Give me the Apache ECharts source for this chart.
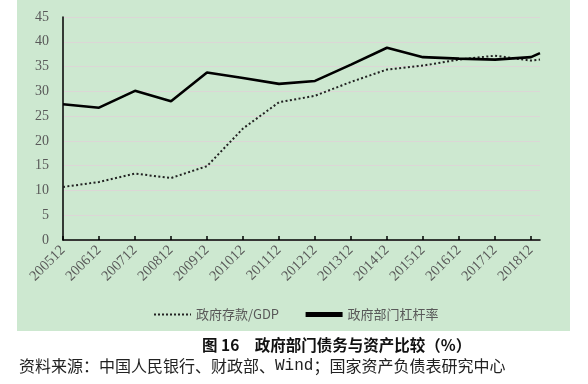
<!DOCTYPE html>
<html>
<head>
<meta charset="utf-8">
<script src="https://cdn.jsdelivr.net/npm/echarts@6/dist/echarts.min.js"></script>
<style>
html,body{margin:0;padding:0;background:#fff;}
#c{width:588px;height:384px;}
</style>
</head>
<body>
<div id="c"></div>
<script>
// yearly tick labels (axis shows one label per year, data quarterly grid)
var yearLabels = ['200512','200612','200712','200812','200912','201012','201112','201212','201312','201412','201512','201612','201712','201812'];
var extraDates = ['201903'];
var dates = ['200512','200612','200712','200812','200912','201012','201112','201212','201312','201412','201512','201612','201712','201812','201903'];
var govDepositToGDP = [10.7, 11.7, 13.4, 12.5, 14.9, 22.5, 27.8, 29.1, 31.9, 34.4, 35.2, 36.4, 37.2, 36.2, 36.4];
var govLeverage     = [27.4, 26.7, 30.1, 28.0, 33.8, 32.7, 31.5, 32.1, 35.4, 38.8, 36.9, 36.6, 36.4, 36.9, 37.7];
var seriesNames = ['政府存款/GDP', '政府部门杠杆率'];
var yTicks = [0, 45, 5];
var captionText = '图 16\u3000政府部门债务与资产比较（%）';
var sourceText = '资料来源：中国人民银行、财政部、{m|Wind}；国家资产负债表研究中心';

// quarterly category axis from 200512 to 201903
var quarters = [];
(function(){
  var y = 2005, m = 12;
  while (true) {
    var lab = '' + y + (m < 10 ? '0' + m : m);
    quarters.push(lab);
    if (lab === extraDates[extraDates.length - 1]) break;
    m += 3; if (m > 12) { m -= 12; y += 1; }
  }
})();
function mapData(vals){
  return quarters.map(function(q){
    var i = dates.indexOf(q);
    return i >= 0 ? vals[i] : null;
  });
}

var chart = echarts.init(document.getElementById('c'), null, {renderer:'canvas'});
var serif = '"Liberation Serif","Times New Roman",serif';
var cjk = '"Noto Sans CJK SC","Noto Sans",sans-serif';
chart.setOption({
  backgroundColor: 'transparent',
  animation: false,
  color: ['#222', '#000'],
  graphic: [
    {type:'rect', z:-10, silent:true, shape:{x:17, y:0, width:553, height:331}, style:{fill:'#cde8d0'}},
    {type:'text', left: 202, top: 337, style:{text: captionText, font:'bold 15.5px ' + cjk, fill:'#111'}},
    {type:'text', left: 19, top: 358, style:{text: sourceText, font:'16px ' + cjk, fill:'#222',
      rich:{m:{fontFamily:'"Liberation Mono","DejaVu Sans Mono",monospace', fontSize:16, fill:'#222'}}}}
  ],
  grid: {left: 63, right: 48, top: 17, bottom: 144, containLabel: false},
  legend: {
    left: 148, top: 303,
    itemWidth: 37, itemHeight: 12, itemGap: 24,
    itemStyle: {opacity: 0},
    textStyle: {fontFamily: cjk, fontSize: 13, color: '#595959'},
    data: [
      {name: seriesNames[0], lineStyle:{type:[2,2], width:2, color:'#222'}},
      {name: seriesNames[1], lineStyle:{width:5, color:'#000'}}
    ]
  },
  xAxis: {
    type: 'category',
    boundaryGap: false,
    data: quarters,
    axisLine: {lineStyle:{color:'#000', width:1.5}},
    axisTick: {inside:true, length:4, interval: 3, lineStyle:{color:'#000', width:1.5}},
    axisLabel: {interval: 3, rotate: 45, margin: 8, fontFamily: serif, fontSize: 14.5, color:'#595959'},
    splitLine: {show:false}
  },
  yAxis: {
    type: 'value',
    min: yTicks[0], max: yTicks[1], interval: yTicks[2],
    axisLine: {show:true, lineStyle:{color:'#000', width:1.5}},
    axisTick: {show:false},
    axisLabel: {margin: 14, fontFamily: serif, fontSize: 14, color:'#595959'},
    splitLine: {lineStyle:{color:'#dcd6d6', width:1}}
  },
  series: [
    {name: seriesNames[0], type:'line', data: mapData(govDepositToGDP), connectNulls:true,
     symbol:'none', itemStyle:{color:'#222'}, lineStyle:{type:[2,2.4], width:2, color:'#222'}, z:3},
    {name: seriesNames[1], type:'line', data: mapData(govLeverage), connectNulls:true,
     symbol:'none', itemStyle:{color:'#000'}, lineStyle:{width:2.6, color:'#000'}, z:4}
  ]
});
</script>
</body>
</html>
